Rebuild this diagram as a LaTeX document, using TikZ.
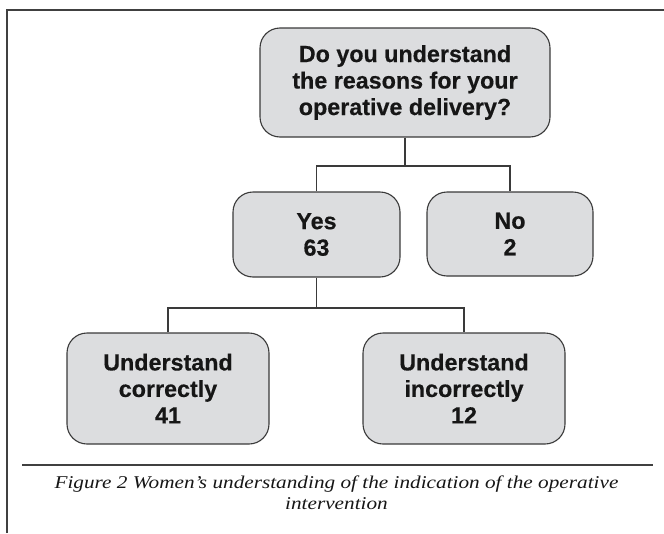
\documentclass[tikz,border=0pt]{standalone}
\usepackage{fontspec}
\setmainfont{Liberation Serif}
\newfontfamily\boxfont[BoldFeatures={FakeBold=0.4}]{Liberation Sans}
\newfontfamily\capfont[FakeStretch=1.18]{Liberation Serif}
\definecolor{boxfill}{HTML}{DCDDDF}
\definecolor{boxline}{HTML}{3A3A3A}
\definecolor{ink}{HTML}{161616}
\definecolor{rulecol}{HTML}{404040}
\begin{document}
\begin{tikzpicture}[x=1pt,y=-1pt,
  box/.style={draw=boxline, line width=1.1pt, fill=boxfill, rounded corners=20pt,
    inner sep=0pt, align=center, text=ink,
    font=\boxfont\bfseries\fontsize{23.3}{26.5}\selectfont},
  conn/.style={draw=boxline, line width=1.1pt},
  framestyle/.style={draw=rulecol, line width=2pt},
  capstyle/.style={inner sep=0pt, anchor=base, text=ink,
    font=\capfont\itshape\fontsize{18}{21}\selectfont}]
\useasboundingbox (0,0) rectangle (664,533);
% frame and rule
\draw[framestyle] (7.3,533) -- (7.3,9.5) -- (664,9.5);
\draw[framestyle] (22,465) -- (653,465);
% nodes
\node[box, minimum width=290pt, minimum height=109pt] (q) at (405,82.5)
  {Do you understand\\the reasons for your\\operative delivery?};
\node[box, minimum width=167pt, minimum height=85pt] (yes) at (316.5,234.5) {Yes\\63};
\node[box, minimum width=166pt, minimum height=84pt] (no) at (510,234) {No\\2};
\node[box, minimum width=202pt, minimum height=111pt] (uc) at (168,388.5)
  {Understand\\correctly\\41};
\node[box, minimum width=202pt, minimum height=111pt] (ui) at (464,388.5)
  {Understand\\incorrectly\\12};
% connectors
\coordinate (j1) at (405,166);
\coordinate (j2) at (316.5,308);
\draw[conn] (q.south) -- (j1);
\draw[conn] (yes.north) |- (j1) -| (no.north);
\draw[conn] (yes.south) -- (j2);
\draw[conn] (uc.north) |- (j2) -| (ui.north);
% caption
\node[capstyle] (cap1) at (336.5,488) {Figure 2 Women’s understanding of the indication of the operative};
\node[capstyle] (cap2) at (336.5,509) {intervention};
\end{tikzpicture}
\end{document}
